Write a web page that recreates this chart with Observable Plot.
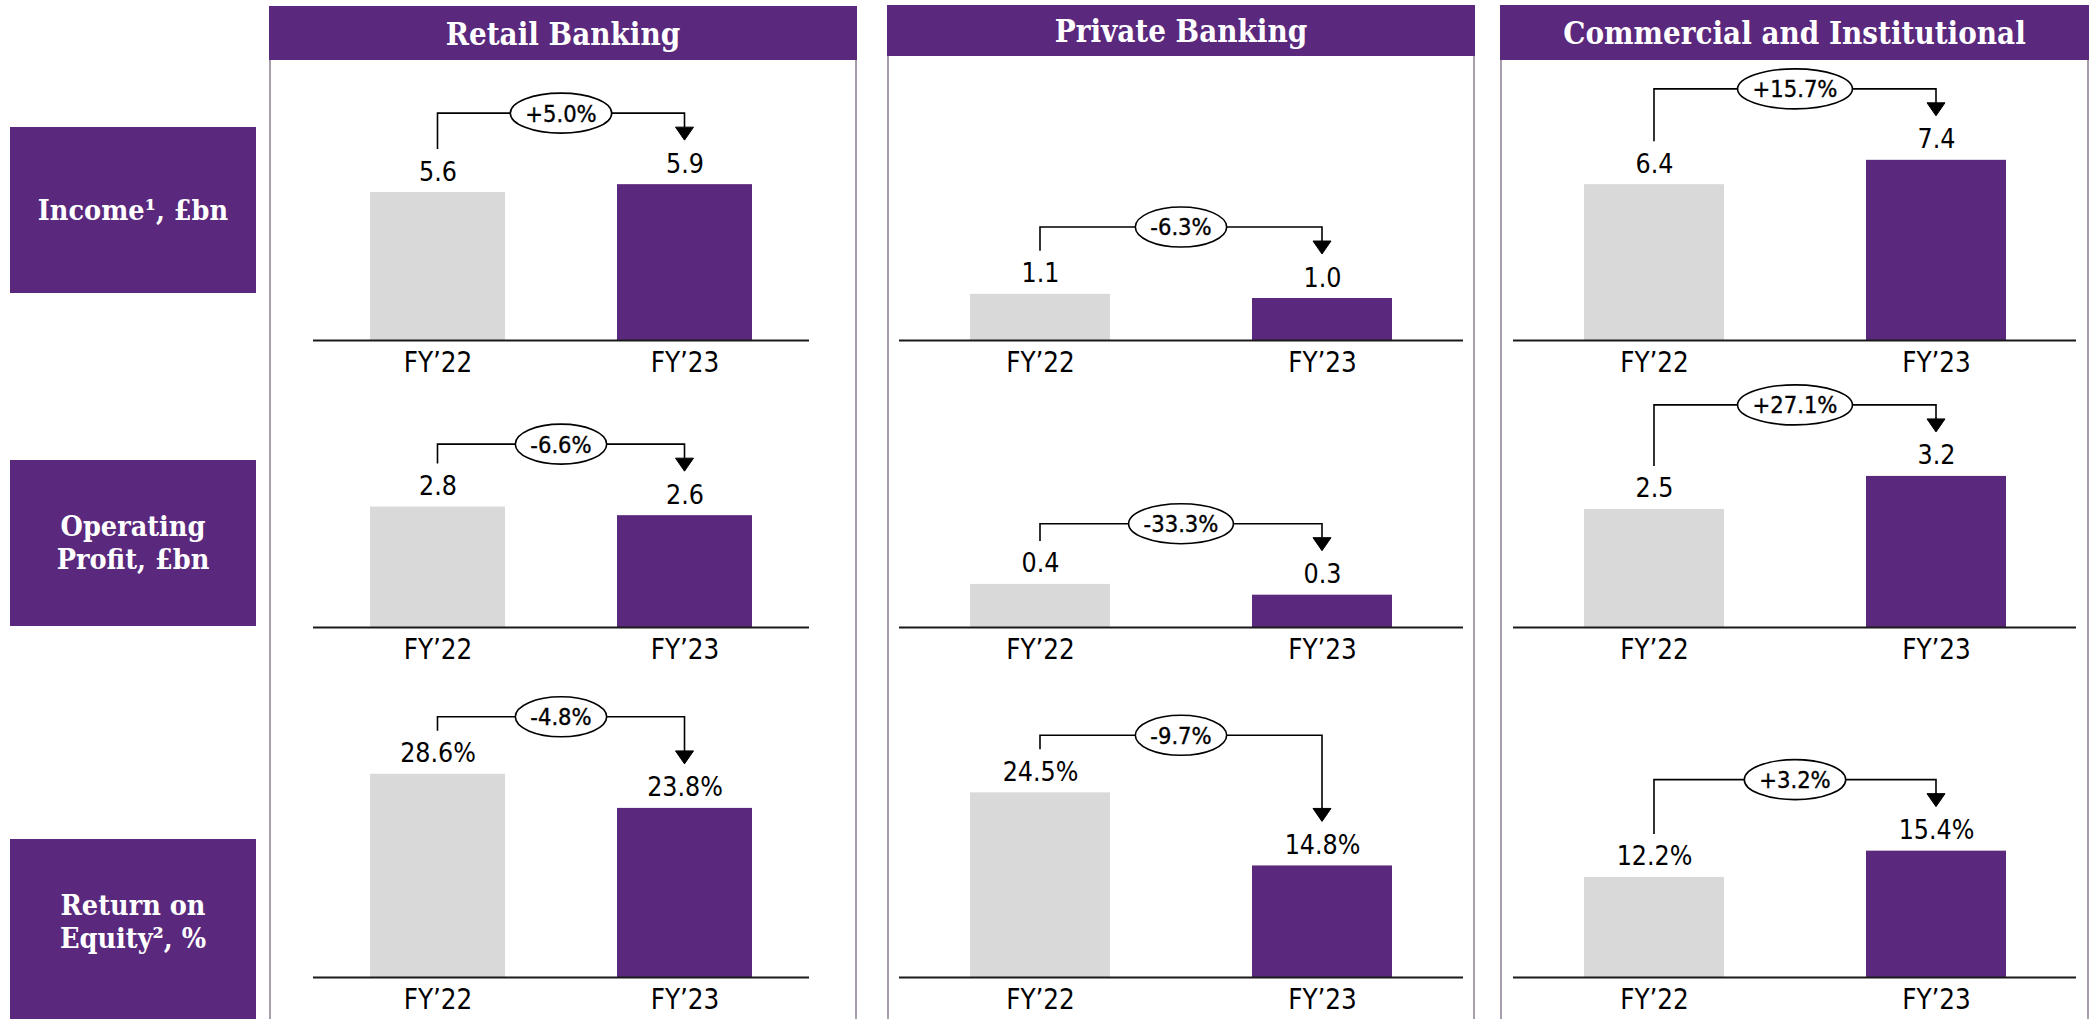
<!DOCTYPE html>
<html>
<head>
<meta charset="utf-8">
<script src="https://cdn.jsdelivr.net/npm/d3@7"></script>
<script src="https://cdn.jsdelivr.net/npm/@observablehq/plot@0.6"></script>
<style>
  html, body { margin: 0; padding: 0; background: #fff; }
  body { width: 2094px; height: 1019px; position: relative; overflow: hidden; }
  .slab { font-family: "DejaVu Serif Condensed", "DejaVu Serif", serif; font-stretch: condensed; font-weight: bold; color: #fff; }
  .panel { position: absolute; border: 2px solid #a89dac; box-sizing: border-box; }
  .hdr { position: absolute; background: #5a287d; font-size: 31px; display: flex; align-items: center; justify-content: center; padding-top: 1px; box-sizing: border-box; white-space: nowrap; }
  .lbl { position: absolute; left: 10px; width: 246px; background: #5a287d; }
  .lblInner { position: absolute; left: 0; top: 0; width: 100%; display: flex; flex-direction: column; justify-content: center; align-items: center; font-size: 28.5px; line-height: 33px; text-align: center; }
  .cell { position: absolute; }
</style>
</head>
<body>
<script>
// ---------- data ----------
const segments = ["Retail Banking", "Private Banking", "Commercial and Institutional"];
const metricLines = [["Income¹, £bn"], ["Operating", "Profit, £bn"], ["Return on", "Equity², %"]];
const periods = ["FY’22", "FY’23"];
const valueSuffix = ["", "", "%"];

const retailFY22 = [5.6, 2.8, 28.6];
const retailFY23 = [5.9, 2.6, 23.8];
const retailChange = ["+5.0%", "-6.6%", "-4.8%"];

const privateFY22 = [1.1, 0.4, 24.5];
const privateFY23 = [1.0, 0.3, 14.8];
const privateChange = ["-6.3%", "-33.3%", "-9.7%"];

const commercialFY22 = [6.4, 2.5, 12.2];
const commercialFY23 = [7.4, 3.2, 15.4];
const commercialChange = ["+15.7%", "+27.1%", "+3.2%"];

const seriesFY22 = [retailFY22, privateFY22, commercialFY22];
const seriesFY23 = [retailFY23, privateFY23, commercialFY23];
const seriesChange = [retailChange, privateChange, commercialChange];

// ---------- layout / styling ----------
const PURPLE = "#5a287d", GREY = "#d9d9d9";
const FONT = "'DejaVu Sans Condensed', 'DejaVu Sans', sans-serif";
const panelLayout = [
  {left: 269, right: 857, top: 6, headerH: 54, axisL: 313, axisR: 809, padIn: 0.455, padOut: 0.23},
  {left: 887, right: 1475, top: 5, headerH: 51, axisL: 899, axisR: 1463, padIn: 0.505, padOut: 0.25},
  {left: 1500, right: 2089, top: 5, headerH: 55, axisL: 1513, axisR: 2076, padIn: 0.505, padOut: 0.25}
];
const rowLayout = [
  {top: 60, bottom: 390, base: 340},
  {top: 390, bottom: 680, base: 627},
  {top: 680, bottom: 1019, base: 977}
];
const yMax = [[10.6, 5.51, 41.8], [6.67, 2.2, 39.4], [11.5, 5.02, 36.2]];
const labelBoxes = [{top: 127, h: 166, boxH: 166}, {top: 460, h: 166, boxH: 166}, {top: 839, h: 166, boxH: 190}];

const body = document.body;

// row labels
metricLines.forEach((lines, r) => {
  const b = labelBoxes[r];
  const box = document.createElement("div");
  box.className = "lbl";
  box.style.top = b.top + "px";
  box.style.height = b.boxH + "px";
  const inner = document.createElement("div");
  inner.className = "lblInner slab";
  inner.style.height = b.h + "px";
  lines.forEach(t => { const d = document.createElement("div"); d.textContent = t; inner.appendChild(d); });
  box.appendChild(inner);
  body.appendChild(box);
});

// panels + headers
segments.forEach((name, s) => {
  const p = panelLayout[s];
  const panel = document.createElement("div");
  panel.className = "panel";
  panel.style.left = p.left + "px";
  panel.style.top = p.top + "px";
  panel.style.width = (p.right - p.left) + "px";
  panel.style.height = (1019 - p.top + 20) + "px";
  body.appendChild(panel);
  const hdr = document.createElement("div");
  hdr.className = "hdr slab";
  hdr.style.left = p.left + "px";
  hdr.style.top = p.top + "px";
  hdr.style.width = (p.right - p.left) + "px";
  hdr.style.height = p.headerH + "px";
  hdr.textContent = name;
  body.appendChild(hdr);
});

function fmt(v, r) { return v.toFixed(1) + valueSuffix[r]; }

segments.forEach((name, s) => {
  const p = panelLayout[s];
  rowLayout.forEach((row, r) => {
    const v1 = seriesFY22[s][r], v2 = seriesFY23[s][r];
    const data = [
      {period: periods[0], value: v1, label: fmt(v1, r)},
      {period: periods[1], value: v2, label: fmt(v2, r)}
    ];
    const svgLeft = p.left + 2;
    const width = p.right - p.left - 4;
    const height = row.bottom - row.top;
    const chart = Plot.plot({
      width, height,
      marginTop: 0,
      marginBottom: row.bottom - row.base,
      marginLeft: p.axisL - svgLeft,
      marginRight: svgLeft + width - p.axisR,
      style: {fontFamily: FONT, fontStretch: "condensed", fontSize: "27.5px", color: "#000", background: "transparent", overflow: "visible"},
      x: {domain: periods, paddingInner: p.padIn, paddingOuter: p.padOut, tickSize: 0, tickPadding: 12, label: null},
      y: {domain: [0, yMax[s][r]], axis: null},
      color: {domain: periods, range: [GREY, PURPLE]},
      marks: [
        Plot.barY(data, {x: "period", y: "value", fill: "period"}),
        Plot.ruleY([0], {stroke: "#1a1a1a", strokeWidth: 2}),
        Plot.text(data, {x: "period", y: "value", text: "label", lineAnchor: "bottom", dy: -12, fontSize: 26.5, fill: "#000"})
      ]
    });
    const wrap = document.createElement("div");
    wrap.className = "cell";
    wrap.style.left = svgLeft + "px";
    wrap.style.top = row.top + "px";
    wrap.appendChild(chart);
    body.appendChild(wrap);

    // change annotation drawn from the plot's own scales
    const xs = chart.scale("x"), ys = chart.scale("y");
    const bw = xs.bandwidth;
    const cx1 = xs.apply(periods[0]) + bw / 2;
    const cx2 = xs.apply(periods[1]) + bw / 2;
    const top1 = ys.apply(v1), top2 = ys.apply(v2);
    const leftEnd = top1 - 43;
    const tip = top2 - 44;
    const by = Math.min(leftEnd - 14, tip - 27);
    const mid = (cx1 + cx2) / 2;
    const g = d3.select(chart).append("g").attr("fill", "none").attr("stroke", "#000").attr("stroke-width", 1.6);
    g.append("path").attr("d", `M${cx1},${leftEnd}V${by}H${cx2}V${tip - 13}`);
    g.append("path").attr("d", `M${cx2 - 9},${tip - 13}L${cx2 + 9},${tip - 13}L${cx2},${tip}Z`).attr("fill", "#000").attr("stroke-width", 1);
    const ell = g.append("ellipse").attr("cx", mid).attr("cy", by).attr("ry", 20).attr("fill", "#fff");
    const t = d3.select(chart).append("text")
      .attr("x", mid).attr("y", by).attr("dy", "0.36em")
      .attr("text-anchor", "middle")
      .attr("font-size", 23.5).attr("fill", "#000")
      .attr("font-family", FONT).style("font-stretch", "condensed")
      .attr("stroke", "#000").attr("stroke-width", 0.35)
      .text(seriesChange[s][r]);
    const tw = t.node().getComputedTextLength();
    ell.attr("rx", tw / 2 + 15);
  });
});
</script>
</body>
</html>
